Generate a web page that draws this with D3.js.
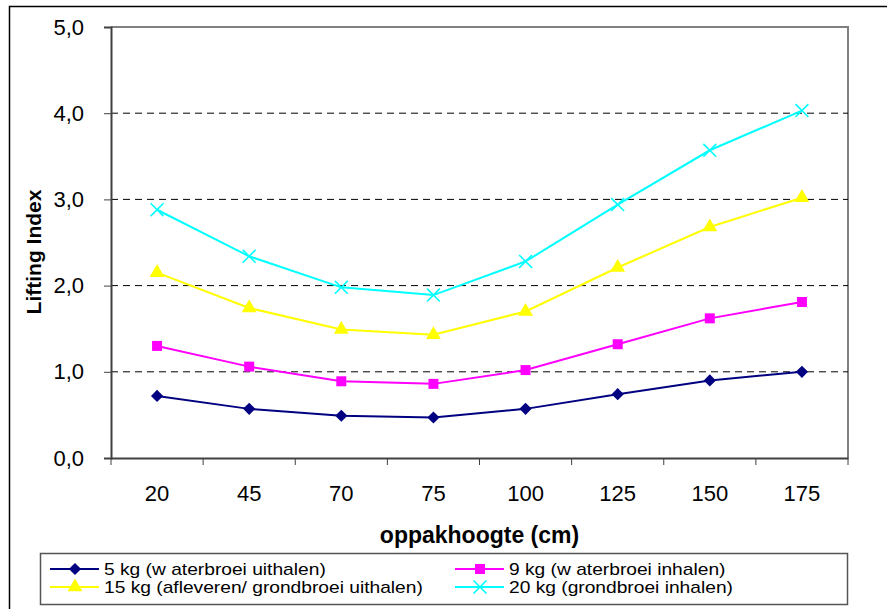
<!DOCTYPE html>
<html>
<head>
<meta charset="utf-8">
<script src="https://cdn.jsdelivr.net/npm/d3@7"></script>
<style>
  body { margin: 0; background: #fff; }
  text { font-family: "Liberation Sans", Arial, sans-serif; }
</style>
</head>
<body>
<svg id="chart" width="887" height="609"></svg>
<script>
const categories = ["20", "45", "70", "75", "100", "125", "150", "175"];
const yTicks = [0, 1, 2, 3, 4, 5];

const kg5 = [0.72, 0.57, 0.49, 0.47, 0.57, 0.74, 0.90, 1.00];
const kg9 = [1.30, 1.06, 0.89, 0.86, 1.02, 1.32, 1.62, 1.81];
const kg15 = [2.15, 1.74, 1.49, 1.43, 1.70, 2.21, 2.68, 3.02];
const kg20 = [2.88, 2.34, 1.98, 1.89, 2.28, 2.94, 3.57, 4.03];

const seriesNames = [
  "5 kg (w aterbroei uithalen)",
  "9 kg (w aterbroei inhalen)",
  "15 kg (afleveren/ grondbroei uithalen)",
  "20 kg (grondbroei inhalen)"
];

const series = [
  { name: seriesNames[0], values: kg5, color: "#000080", marker: "diamond" },
  { name: seriesNames[1], values: kg9, color: "#ff00ff", marker: "square" },
  { name: seriesNames[2], values: kg15, color: "#ffff00", marker: "triangle" },
  { name: seriesNames[3], values: kg20, color: "#00ffff", marker: "cross" }
];

const width = 887, height = 609;
const margin = { top: 27, right: 39, bottom: 151, left: 111 };

const svg = d3.select("#chart");

// outer chart frame
svg.append("rect")
  .attr("x", 9.5).attr("y", 6.5)
  .attr("width", 900).attr("height", 700)
  .attr("fill", "none").attr("stroke", "#000").attr("stroke-width", 1.5);

const x = d3.scaleBand()
  .domain(categories)
  .range([margin.left, width - margin.right]);

const y = d3.scaleLinear()
  .domain([0, 5])
  .range([height - margin.bottom, margin.top]);

// plot area border (grey top/right)
svg.append("path")
  .attr("d", `M${margin.left},${y(5)}H${width - margin.right}V${y(0)}`)
  .attr("fill", "none").attr("stroke", "#808080").attr("stroke-width", 2);

// gridlines
svg.append("g")
  .selectAll("line")
  .data(yTicks.filter(d => d > 0 && d < 5))
  .join("line")
  .attr("x1", margin.left).attr("x2", width - margin.right)
  .attr("y1", d => y(d)).attr("y2", d => y(d))
  .attr("stroke", "#000").attr("stroke-width", 1)
  .attr("stroke-dasharray", "7,5");

// y axis
const yAxis = svg.append("g")
  .attr("transform", `translate(${margin.left},0)`)
  .call(d3.axisLeft(y).tickValues(yTicks).tickSize(7).tickPadding(20)
    .tickFormat(d => d3.format(".1f")(d).replace(".", ",")));
yAxis.select(".domain").attr("stroke", "#404040").attr("stroke-width", 2);
yAxis.selectAll(".tick line").attr("stroke", "#404040");
yAxis.selectAll("text").attr("font-size", 22).attr("fill", "#000");

// x axis
const xAxis = svg.append("g")
  .attr("transform", `translate(0,${y(0)})`)
  .call(d3.axisBottom(x).tickSize(0).tickPadding(27));
xAxis.select(".domain").attr("stroke", "#404040").attr("stroke-width", 2);
xAxis.selectAll("text").attr("font-size", 22).attr("fill", "#000");
xAxis.append("g")
  .selectAll("line")
  .data(categories.map(c => x(c)).concat([x.range()[1]]))
  .join("line")
  .attr("x1", d => d).attr("x2", d => d)
  .attr("y1", 0).attr("y2", 7)
  .attr("stroke", "#404040");

// axis titles
svg.append("text")
  .attr("transform", `translate(41,252) rotate(-90)`)
  .attr("text-anchor", "middle")
  .attr("font-size", 21).attr("font-weight", "bold")
  .text("Lifting Index");

svg.append("text")
  .attr("x", (x.range()[0] + x.range()[1]) / 2)
  .attr("y", 543)
  .attr("text-anchor", "middle")
  .attr("font-size", 23).attr("font-weight", "bold")
  .text("oppakhoogte (cm)");

const symbolFor = {
  diamond: d3.symbol().type(d3.symbolDiamond2).size(95),
  square: d3.symbol().type(d3.symbolSquare).size(100),
  triangle: d3.symbol().type(d3.symbolTriangle).size(95),
  cross: d3.symbol().type(d3.symbolX).size(110)
};

function drawMarker(g, s) {
  const p = g.append("path").attr("d", symbolFor[s.marker]());
  if (s.marker === "cross") {
    p.attr("fill", "none").attr("stroke", s.color).attr("stroke-width", 1.6);
  } else {
    p.attr("fill", s.color);
  }
  return p;
}

const line = d3.line()
  .x((d, i) => x(categories[i]) + x.bandwidth() / 2)
  .y(d => y(d));

series.forEach(s => {
  const g = svg.append("g");
  g.append("path")
    .attr("d", line(s.values))
    .attr("fill", "none").attr("stroke", s.color).attr("stroke-width", 2);
  s.values.forEach((v, i) => {
    const m = g.append("g")
      .attr("transform", `translate(${x(categories[i]) + x.bandwidth() / 2},${y(v)})`);
    drawMarker(m, s);
  });
});

// legend
const legend = svg.append("g");
legend.append("rect")
  .attr("x", 40.5).attr("y", 553.5)
  .attr("width", 807).attr("height", 51)
  .attr("fill", "#fff").attr("stroke", "#555").attr("stroke-width", 1.5);

const legendPos = [[50, 569], [455, 569], [50, 587], [455, 587]];
series.forEach((s, i) => {
  const [lx, ly] = legendPos[i];
  const g = legend.append("g").attr("transform", `translate(${lx},${ly})`);
  g.append("line").attr("x1", 0).attr("x2", 49).attr("y1", 0).attr("y2", 0)
    .attr("stroke", s.color).attr("stroke-width", 2);
  const m = g.append("g").attr("transform", "translate(25,0)");
  drawMarker(m, s);
  // Excel's legend font is tall and a little wide; stretch a smaller font
  g.append("text")
    .attr("transform", "translate(54,0) scale(1.2,1)")
    .attr("dy", "0.35em")
    .attr("font-size", 16)
    .text(s.name);
});
</script>
</body>
</html>
